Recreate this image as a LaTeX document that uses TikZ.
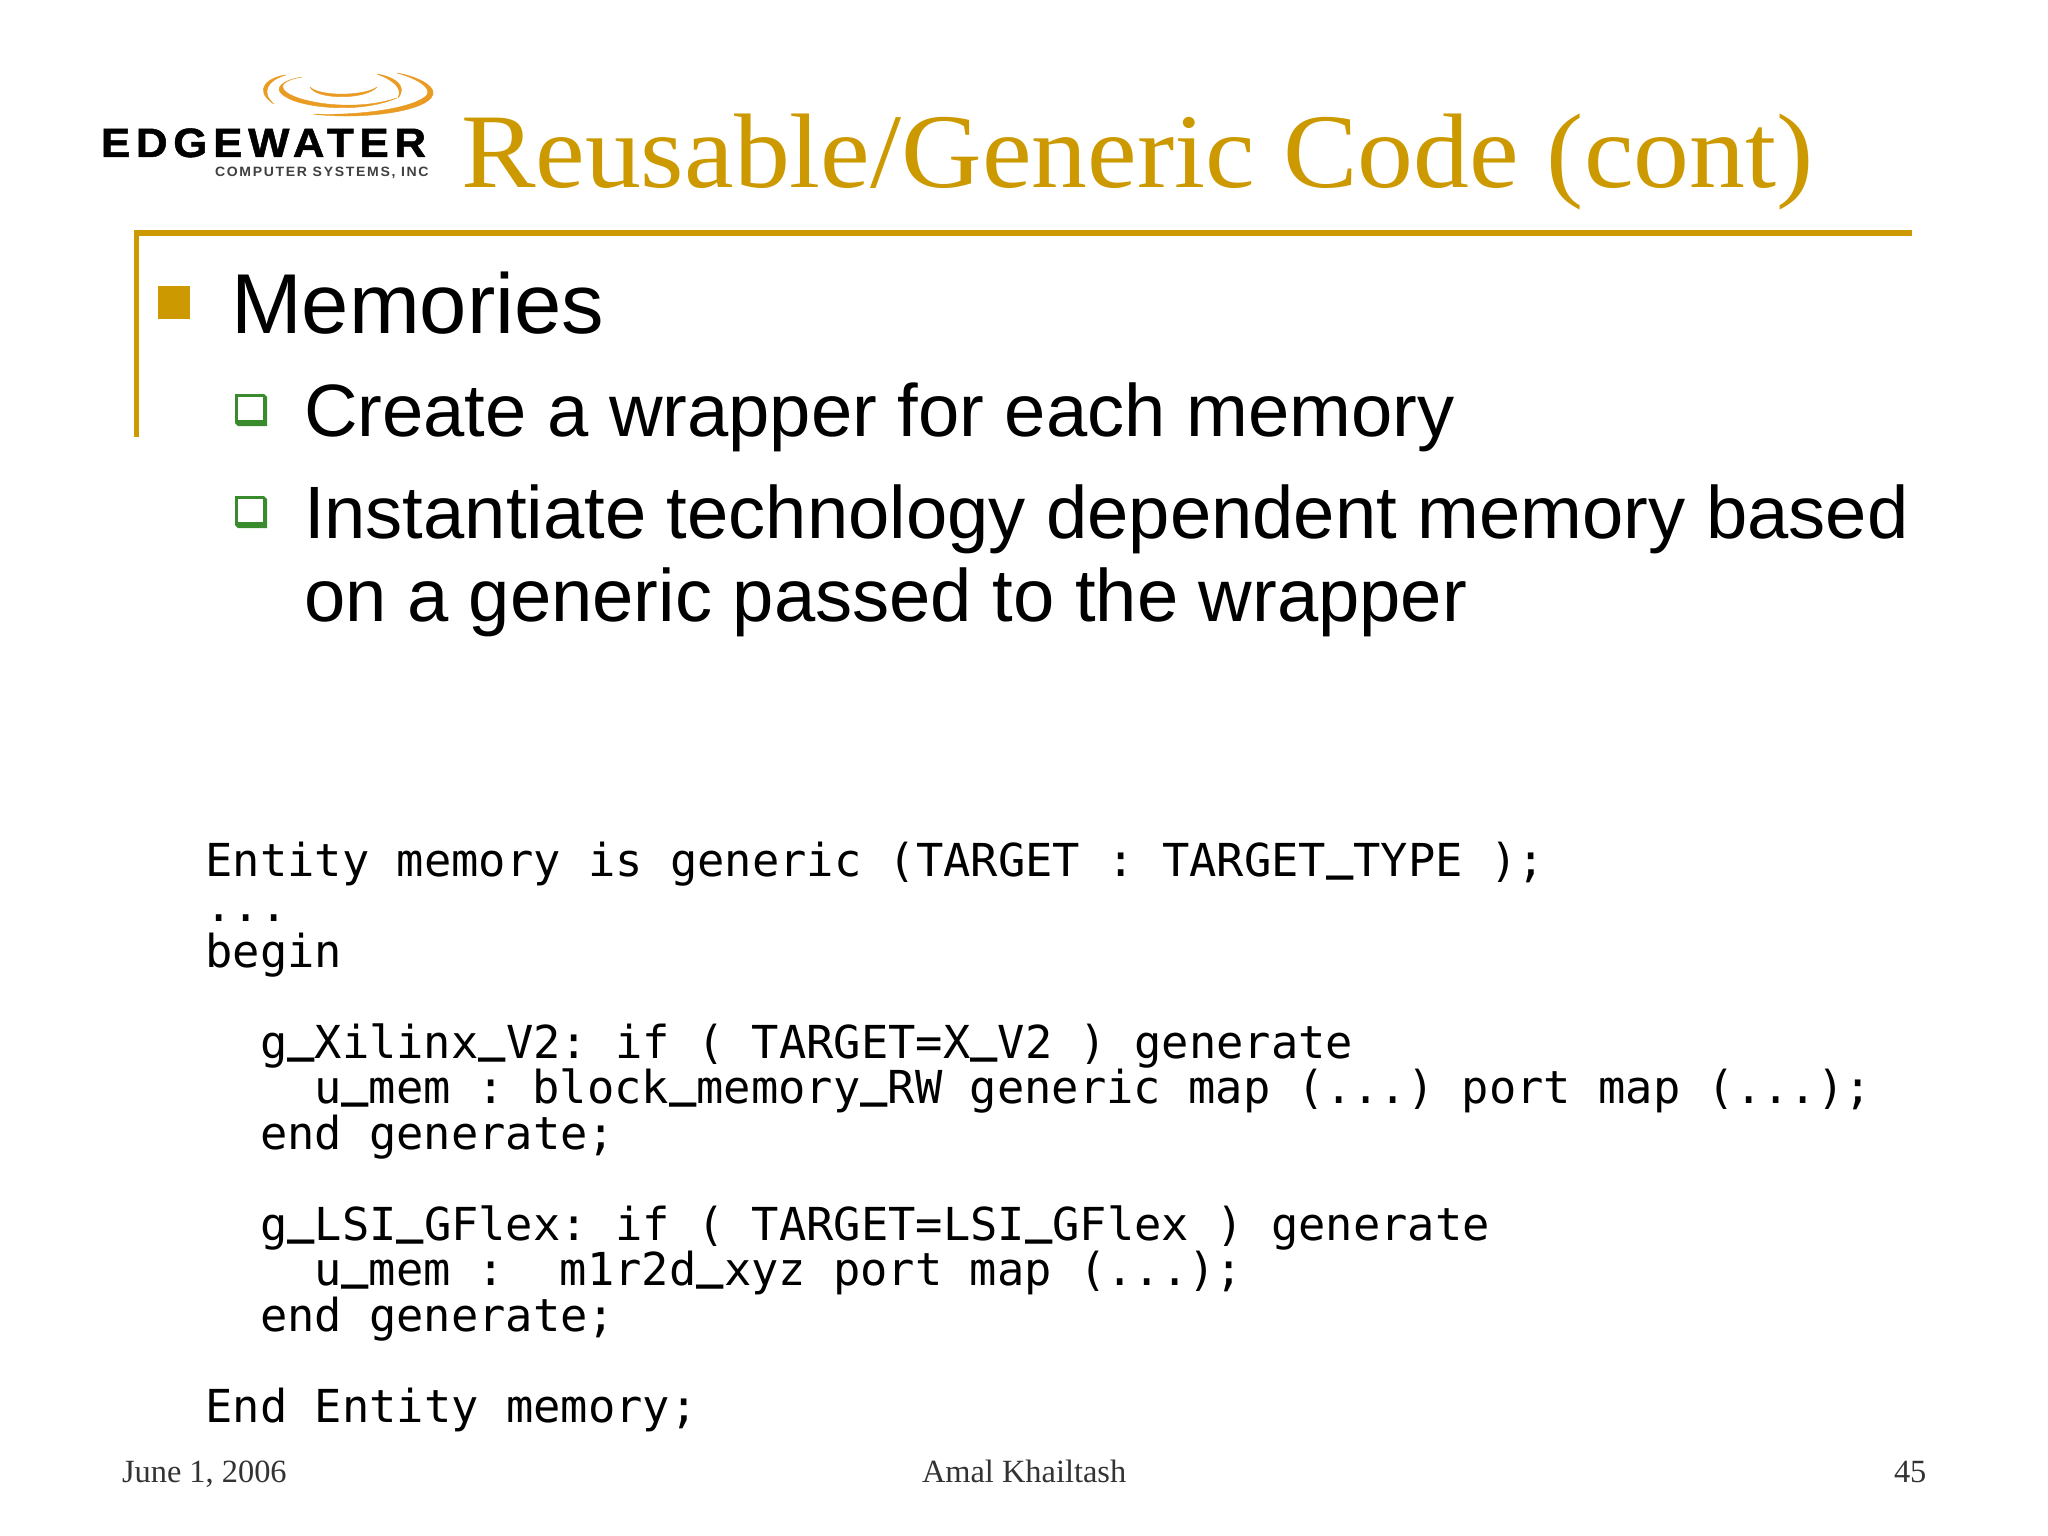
\documentclass[tikz,border=0pt]{standalone}
\usepackage{fontspec}
\setmainfont{Liberation Sans}
\newfontfamily\titlefont{Liberation Serif}
\newfontfamily\codefont{DejaVu Sans Mono}
\newfontfamily\codebold{DejaVu Sans Mono Bold}
\newfontfamily\logofont[LetterSpace=13,FakeBold=1.2]{Liberation Sans Bold}
\newfontfamily\logosmall[LetterSpace=12]{Liberation Sans Bold}
\definecolor{gold}{HTML}{CC9900}
\definecolor{bulgreen}{HTML}{3A8A2E}
\definecolor{ring}{HTML}{E99B22}
\newcommand{\fsz}[1]{\fontsize{#1}{#1}\selectfont}
\newcommand{\us}{\raisebox{7pt}{\codebold\_}}
\frenchspacing
\tikzset{
  every node/.style={inner sep=0pt,outer sep=0pt,anchor=base west},
  lvlone/.style={font=\fsz{85}},
  lvltwo/.style={font=\fsz{74.2}},
  codeline/.style={font=\codefont\fsz{45.4}},
  foot/.style={font=\titlefont\fsz{32.4},text=black!80},
  arcfill/.style={fill=ring,draw=ring,line width=0.4pt,line join=round}
}
\begin{document}
\begin{tikzpicture}[x=1pt,y=-1pt]
\useasboundingbox[fill=white] (0,0) rectangle (2048,1536);
% logo
\fill[arcfill] (286,75) .. controls (268,77) and (252,90) .. (274,104) .. controls (260,92) and (268,80) .. (286,75);
\fill[arcfill] (302,77) .. controls (283,80) and (273,88) .. (283,95) .. controls (297,107) and (357,115) .. (397,98) .. controls (355,112) and (300,103) .. (286,92) .. controls (278,85) and (285,80) .. (302,77);
\fill[arcfill] (377,74) .. controls (395,77) and (408,86) .. (398,98) .. controls (403,88) and (393,80) .. (377,74);
\fill[arcfill] (397,73) .. controls (420,77) and (440,88) .. (431,98) .. controls (420,112) and (360,120) .. (313,114) .. controls (360,116) and (415,108) .. (427,95) .. controls (432,87) and (415,78) .. (397,73);
\fill[arcfill] (310,87) .. controls (316,100) and (366,100) .. (377,87) .. controls (365,96) and (320,97) .. (310,87);
\node[font=\logofont\fsz{41}] (logoa) at (101,157) {\scalebox{1.07}[1]{EDGEWATER}};
\node[font=\logosmall\fsz{13.5},text=black!75] (logob) at (215,176) {\scalebox{1.04}[1]{COMPUTER SYSTEMS, INC}};
% title
\node[font=\titlefont\fsz{106},text=gold] (title) at (461,187.5) {\scalebox{1.054}[1]{Reusable/Generic Code (cont)}};
% frame
\fill[gold] (134,230) rectangle (1912,235.5);
\fill[gold] (134,230) rectangle (139,437);
% bullets
\fill[gold] (158,286) rectangle (190,319);
\node[lvlone] (mem) at (231,333) {Memories};
\foreach \n/\y in {a/394,b/496}{
  \fill[bulgreen] (235,\y) -- (264,\y) -- (267,\y+3) -- (267,\y+32) -- (238,\y+32) -- (235,\y+29) -- cycle;
  \fill[white] (238,\y+3) rectangle (263,\y+26);
}
\node[lvltwo] (s1) at (304,436.5) {Create a wrapper for each memory};
\node[lvltwo] (s2) at (304,538) {Instantiate technology dependent memory based};
\node[lvltwo] (s3) at (304,621) {on a generic passed to the wrapper};
% code
\node[codeline] (c1) at (205.5,876) {Entity memory is generic (TARGET : TARGET\us TYPE );};
\node[codeline] (c2) at (205.5,921) {...};
\node[codeline] (c3) at (205.5,967) {begin};
\node[codeline] (c4) at (260,1058) {g\us Xilinx\us V2: if ( TARGET=X\us V2 ) generate};
\node[codeline] (c5) at (314,1103) {u\us mem : block\us memory\us RW generic map (...) port map (...);};
\node[codeline] (c6) at (260,1149) {end generate;};
\node[codeline] (c7) at (260,1240) {g\us LSI\us GFlex: if ( TARGET=LSI\us GFlex ) generate};
\node[codeline] (c8) at (314,1285) {u\us mem :~~m1r2d\us xyz port map (...);};
\node[codeline] (c9) at (260,1331) {end generate;};
\node[codeline] (c10) at (205.5,1422) {End Entity memory;};
% footer
\node[foot] (f1) at (122,1482) {June 1, 2006};
\node[foot] (f2) at (922,1482) {Amal Khailtash};
\node[foot] (f3) at (1894,1482) {45};
\end{tikzpicture}
\end{document}
